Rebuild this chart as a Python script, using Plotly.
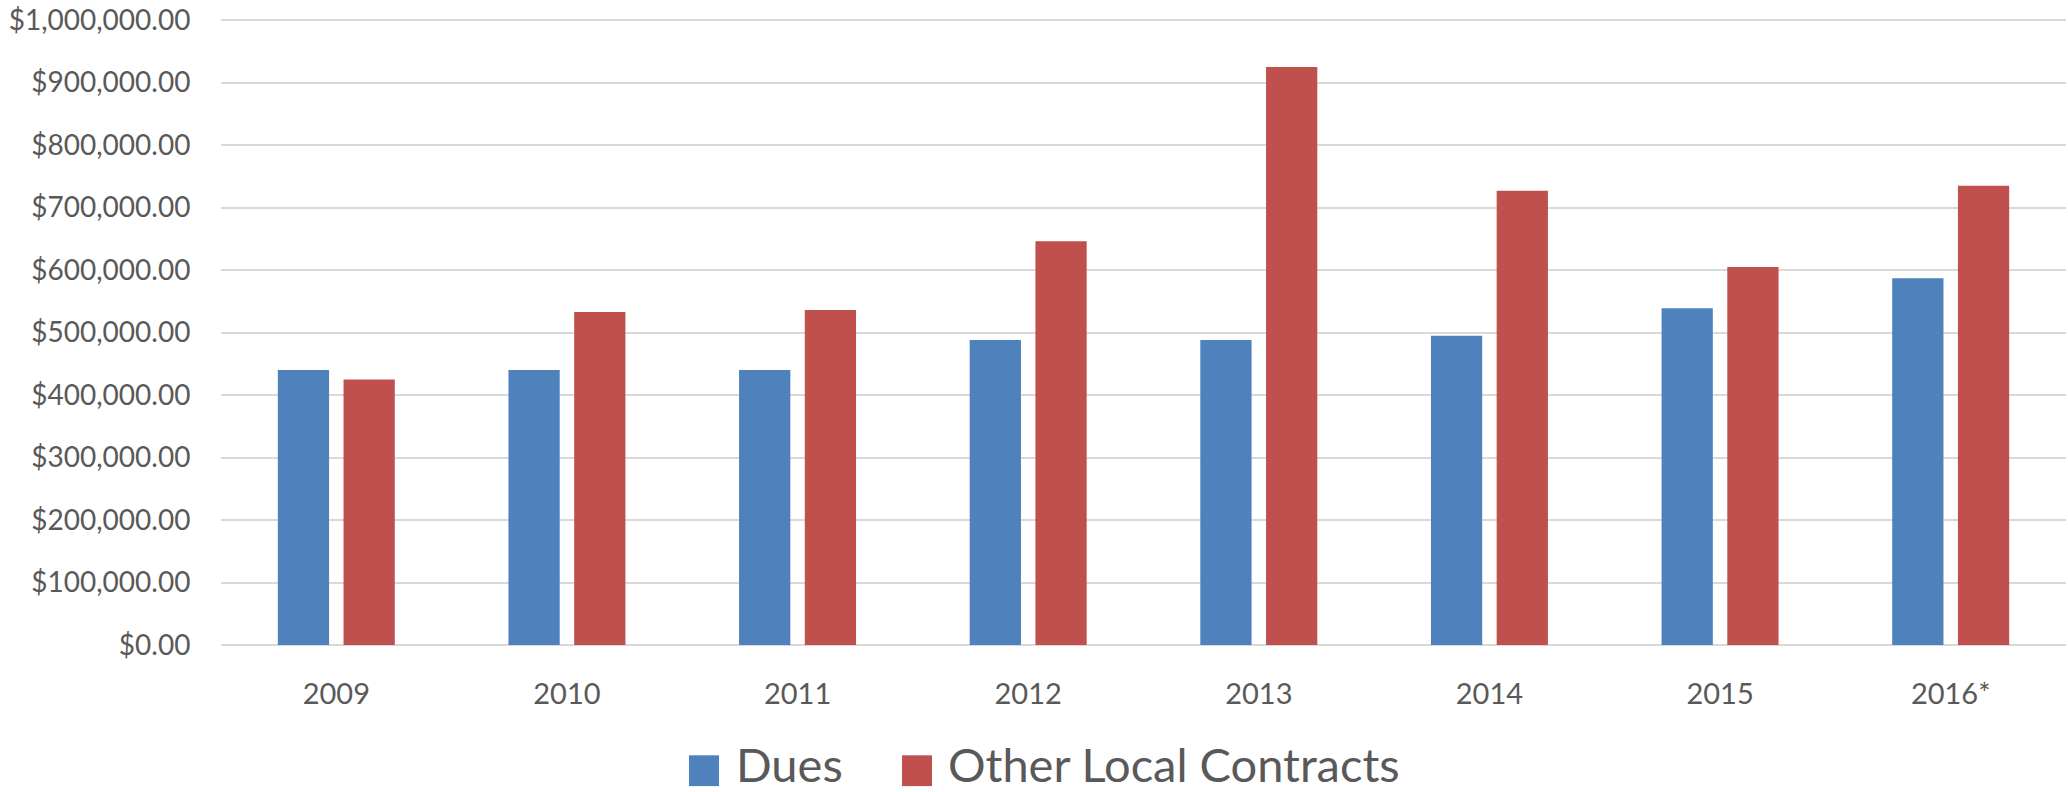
import plotly.graph_objects as go

years = ["2009", "2010", "2011", "2012", "2013", "2014", "2015", "2016*"]
dues = [440000, 440000, 440000, 488000, 488000, 495000, 539000, 587000]
other_local = [425000, 533000, 536000, 646000, 925000, 727000, 605000, 735000]
series_names = ["Dues", "Other Local Contracts"]
y_ticks = list(range(0, 1000001, 100000))

BLUE = "#4F81BD"
RED = "#C0504D"
TEXT = "#595959"
GRID = "#D9D9D9"

W, H = 2068, 792
L, R, T, B = 221, 2, 13, 147
PW = W - L - R
PH = H - T - B


def px_x(x):
    return (x - L) / PW


def px_y(y):
    return (H - B - y) / PH


fig = go.Figure()
fig.add_trace(go.Bar(x=years, y=dues, name=series_names[0], marker_color=BLUE,
                     marker_line_width=0, showlegend=False))
fig.add_trace(go.Bar(x=years, y=other_local, name=series_names[1], marker_color=RED,
                     marker_line_width=0, showlegend=False))

# custom legend (large swatches as in the reference)
legend_items = [(series_names[0], BLUE, 689, 734), (series_names[1], RED, 902, 946)]
for name, color, sx, tx in legend_items:
    fig.add_shape(type="rect", xref="paper", yref="paper",
                  x0=px_x(sx), x1=px_x(sx + 30), y0=px_y(787), y1=px_y(756),
                  fillcolor=color, line_width=0)
    fig.add_annotation(xref="paper", yref="paper", x=px_x(tx), y=px_y(765),
                       text=name, showarrow=False, xanchor="left", yanchor="middle",
                       font=dict(family="Lato", size=47, color=TEXT))

fig.update_layout(
    width=W, height=H,
    margin=dict(l=L, r=R, t=T, b=B, pad=0),
    paper_bgcolor="white", plot_bgcolor="white",
    barmode="group", bargap=0.43, bargroupgap=0.22,
    font=dict(family="Lato", color=TEXT, size=29),
    xaxis=dict(showgrid=False, showline=False, zeroline=False,
               ticks="outside", ticklen=23, tickcolor="rgba(0,0,0,0)",
               tickfont=dict(family="Lato", size=29, color=TEXT)),
    yaxis=dict(range=[0, 1005000], tickvals=y_ticks, tickformat="$,.2f",
               ticklabeloverflow="allow",
               showgrid=True, gridcolor=GRID, gridwidth=1.5,
               zeroline=True, zerolinecolor=GRID, zerolinewidth=1.5,
               showline=False, ticks="outside", ticklen=24, tickcolor="rgba(0,0,0,0)",
               tickfont=dict(family="Lato", size=28, color=TEXT)),
)

fig.write_html("out.html", config={"displayModeBar": False},
               post_script="document.body.style.margin='0';document.body.style.overflow='hidden';")
